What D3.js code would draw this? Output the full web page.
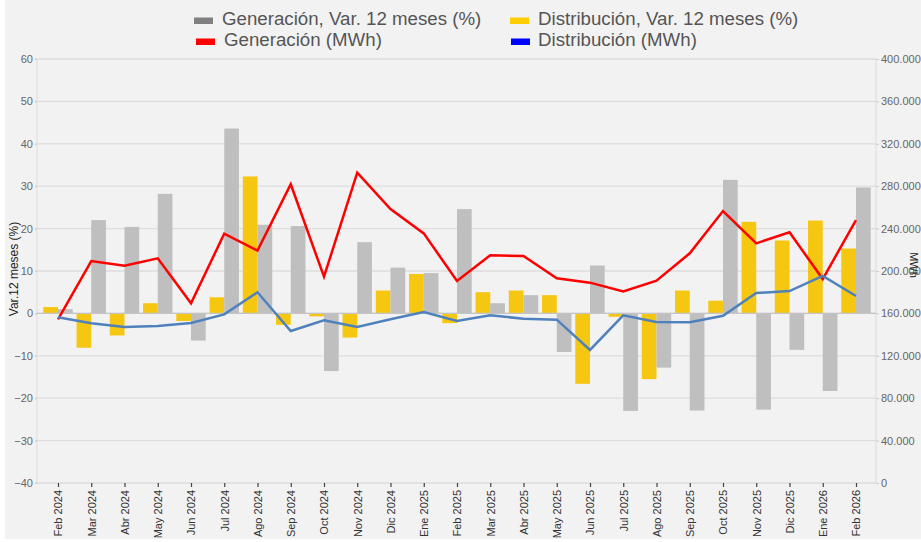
<!DOCTYPE html>
<html>
<head>
<meta charset="utf-8">
<script src="https://cdn.jsdelivr.net/npm/d3@7"></script>
<style>
  body { margin: 0; background: #ffffff; }
  svg { display: block; }
</style>
</head>
<body>
<script>
// months on the x axis
var months = ["Feb 2024","Mar 2024","Abr 2024","May 2024","Jun 2024","Jul 2024","Ago 2024","Sep 2024","Oct 2024","Nov 2024","Dic 2024","Ene 2025",
  "Feb 2025","Mar 2025","Abr 2025","May 2025","Jun 2025","Jul 2025","Ago 2025","Sep 2025","Oct 2025","Nov 2025","Dic 2025","Ene 2026","Feb 2026"];

// variacion 12 meses (%)
var genVar = [1.0, 22.0, 20.4, 28.2, -6.4, 43.6, 20.9, 20.6, -13.6, 16.8, 10.8, 9.5,
  24.6, 2.4, 4.3, -9.1, 11.3, -23.0, -12.8, -22.9, 31.5, -22.7, -8.6, -18.3, 29.7];
var disVar = [1.5, -8.1, -5.2, 2.4, -1.8, 3.8, 32.3, -2.7, -0.7, -5.7, 5.4, 9.3,
  -2.3, 5.0, 5.4, 4.3, -16.6, -0.8, -15.5, 5.4, 3.0, 21.6, 17.2, 21.9, 15.3];

// MWh
var genMWh = [154400, 209400, 205000, 212000, 169500, 235200, 219200, 281800, 194600, 292700, 258500, 235500,
  190600, 214800, 214200, 193100, 189000, 180800, 190900, 216700, 256600, 226100, 236500, 192400, 248100];
var disMWh = [156300, 150700, 147200, 148100, 150900, 159100, 179900, 143400, 153500, 147200, 154400, 161300,
  152800, 158200, 155000, 154100, 125500, 158200, 151900, 151600, 157800, 179200, 181100, 195300, 176400];

var leftTicks = [-40, -30, -20, -10, 0, 10, 20, 30, 40, 50, 60];
var rightTicks = [0, 40000, 80000, 120000, 160000, 200000, 240000, 280000, 320000, 360000, 400000];

var legendItems = [
  {label: "Generación, Var. 12 meses (%)", color: "#808080"},
  {label: "Distribución, Var. 12 meses (%)", color: "#ffcc00"},
  {label: "Generación (MWh)", color: "#ff0000"},
  {label: "Distribución (MWh)", color: "#0000ff"}
];

var w = 921, h = 542;
var plotL = 37, plotR = 876, plotT = 59, plotB = 483;

var svg = d3.select("body").append("svg")
  .attr("width", w)
  .attr("height", h);

svg.append("rect")
  .attr("x", 5).attr("y", 0)
  .attr("width", w - 5).attr("height", 539)
  .attr("fill", "#f2f2f2");

var x = d3.scalePoint().domain(months).range([58, 856]);
var yL = d3.scaleLinear().domain([-40, 60]).range([plotB, plotT]);
var yR = d3.scaleLinear().domain([0, 400000]).range([plotB, plotT]);
var barW = 14.7;

// gridlines
svg.append("g").selectAll("line")
  .data(leftTicks)
  .enter().append("line")
  .attr("x1", plotL - 2).attr("x2", plotR)
  .attr("y1", function(d) { return yL(d); })
  .attr("y2", function(d) { return yL(d); })
  .attr("stroke", "#dddddd")
  .attr("stroke-width", 1.3);

// plot border lines left/right
svg.append("line").attr("x1", plotL).attr("x2", plotL).attr("y1", plotT).attr("y2", plotB)
  .attr("stroke", "#dddddd").attr("stroke-width", 1);
svg.append("line").attr("x1", plotR).attr("x2", plotR).attr("y1", plotT).attr("y2", plotB)
  .attr("stroke", "#dddddd").attr("stroke-width", 1);

// bars
svg.append("g").selectAll("rect")
  .data(disVar)
  .enter().append("rect")
  .attr("x", function(d, i) { return x(months[i]) - barW; })
  .attr("y", function(d) { return yL(Math.max(0, d)); })
  .attr("width", barW)
  .attr("height", function(d) { return Math.abs(yL(d) - yL(0)); })
  .attr("fill", "#f5c710");

svg.append("g").selectAll("rect")
  .data(genVar)
  .enter().append("rect")
  .attr("x", function(d, i) { return x(months[i]); })
  .attr("y", function(d) { return yL(Math.max(0, d)); })
  .attr("width", barW)
  .attr("height", function(d) { return Math.abs(yL(d) - yL(0)); })
  .attr("fill", "#bfbfbf");

// zero line
svg.append("line")
  .attr("x1", plotL).attr("x2", plotR)
  .attr("y1", yL(0)).attr("y2", yL(0))
  .attr("stroke", "#c4c4c4").attr("stroke-width", 1.3);

// lines
var lineGen = d3.line()
  .x(function(d, i) { return x(months[i]); })
  .y(function(d) { return yR(d); });

svg.append("path")
  .datum(genMWh)
  .attr("d", lineGen)
  .attr("fill", "none")
  .attr("stroke", "#ff0000")
  .attr("stroke-width", 2.5);

svg.append("path")
  .datum(disMWh)
  .attr("d", lineGen)
  .attr("fill", "none")
  .attr("stroke", "#4f81bd")
  .attr("stroke-width", 2.5);

// left axis
var axL = svg.append("g")
  .attr("transform", "translate(" + plotL + ",0)")
  .call(d3.axisLeft(yL).tickValues(leftTicks).tickSize(2).tickPadding(2));
axL.select(".domain").remove();
axL.selectAll("line").attr("stroke", "#cccccc");
axL.selectAll("text").attr("fill", "#666666")
  .style("font-family", "Liberation Sans, Arial, sans-serif").style("font-size", "11px");

// right axis
var fmt = function(d) { return d3.format(",")(d).replace(/,/g, "."); };
var axR = svg.append("g")
  .attr("transform", "translate(" + plotR + ",0)")
  .call(d3.axisRight(yR).tickValues(rightTicks).tickFormat(fmt).tickSize(3).tickPadding(2));
axR.select(".domain").remove();
axR.selectAll("line").attr("stroke", "#cccccc");
axR.selectAll("text").attr("fill", "#666666")
  .style("font-family", "Liberation Sans, Arial, sans-serif").style("font-size", "11px");

// x axis
var axX = svg.append("g")
  .attr("transform", "translate(0," + plotB + ")")
  .call(d3.axisBottom(x).tickSize(4).tickPadding(3));
axX.select(".domain").remove();
axX.selectAll("line").attr("stroke", "#444444").attr("stroke-width", 1.2);
axX.selectAll("text")
  .attr("transform", "rotate(-90)")
  .attr("text-anchor", "end")
  .attr("x", -7)
  .attr("y", 0)
  .attr("dy", "0.35em")
  .attr("fill", "#333333")
  .style("font-family", "Liberation Sans, Arial, sans-serif").style("font-size", "11px");

// axis titles
svg.append("text")
  .attr("transform", "translate(17.5,269) rotate(-90)")
  .attr("text-anchor", "middle")
  .attr("fill", "#222222")
  .style("font-family", "Liberation Sans, Arial, sans-serif").style("font-size", "12px")
  .text("Var.12 meses (%)");

svg.append("text")
  .attr("transform", "translate(910,265) rotate(90)")
  .attr("text-anchor", "middle")
  .attr("fill", "#222222")
  .style("font-family", "Liberation Sans, Arial, sans-serif").style("font-size", "11px")
  .text("MWh");

// legend
var legPos = [[194, 17.5], [510, 17.5], [196, 38.5], [511, 38.5]];
var leg = svg.append("g").selectAll("g")
  .data(legendItems)
  .enter().append("g")
  .attr("transform", function(d, i) { return "translate(" + legPos[i][0] + "," + legPos[i][1] + ")"; });
leg.append("rect")
  .attr("width", 19).attr("height", 6.5)
  .attr("fill", function(d) { return d.color; });
leg.append("text")
  .attr("x", function(d, i) { return 28 - legPos[i][0] % 2; }).attr("y", 7)
  .attr("fill", "#555555")
  .style("font-family", "Liberation Sans, Arial, sans-serif").style("font-size", "18.7px")
  .text(function(d) { return d.label; });
</script>
</body>
</html>
